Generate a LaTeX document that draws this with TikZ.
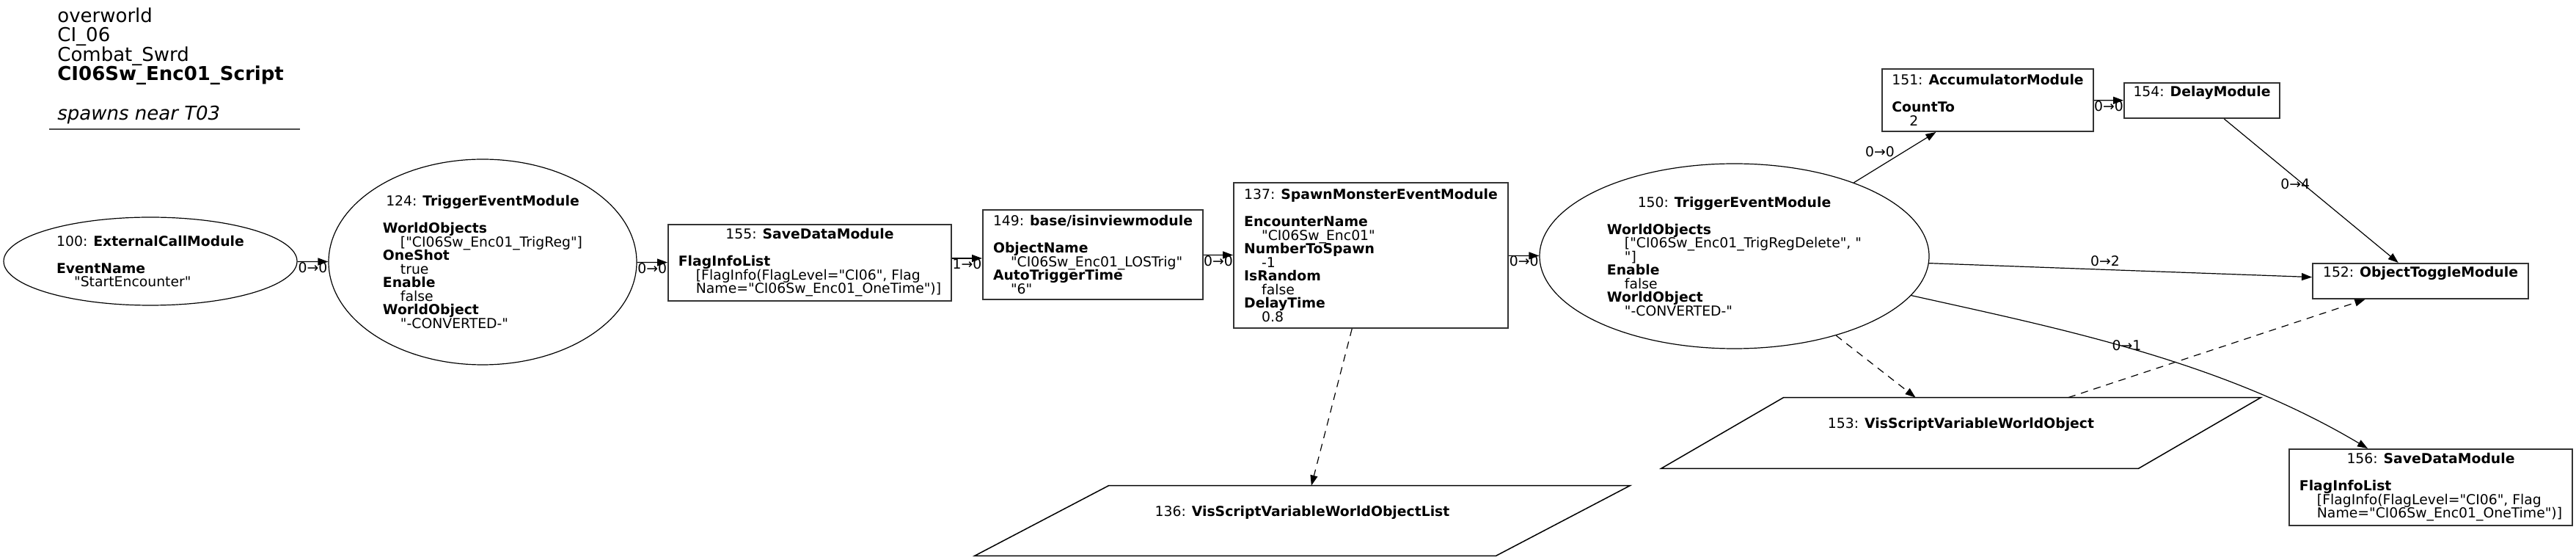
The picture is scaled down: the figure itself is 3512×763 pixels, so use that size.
\documentclass[tikz,border=0pt]{standalone}
\usepackage{fontspec}
\setmainfont{DejaVu Sans}[Ligatures=TeXOff,BoldFont={DejaVu Sans Bold},ItalicFont={DejaVu Sans Oblique}]
\usepackage{tikz}
\usetikzlibrary{arrows.meta,shapes.geometric,positioning}

\newcommand{\modfont}{\fontsize{9.4}{9.25}\selectfont\lineskiplimit=-5pt\relax}
\newcommand{\headfont}{\fontsize{13}{13.3}\selectfont}
\newcommand{\vind}{\hspace*{12pt}}
\newcommand{\modtitle}[2]{#1: \textbf{#2}\\[9.25pt]}
\newcommand{\midtitle}[3]{\setbox0\hbox{#3}\makebox[\wd0][c]{#1: \textbf{#2}}\\[9.25pt]}

\begin{document}
\begin{tikzpicture}[x=0.5pt, y=-0.5pt,
	box/.style={draw=black!80, line width=1pt, rectangle, align=left, font=\modfont, inner sep=0pt},
	trig/.style={draw, ellipse, line width=0.6pt, align=left, font=\modfont, inner sep=0pt},
	var/.style={rectangle, font=\modfont, inner sep=0pt, text height=7pt, text depth=13pt},
	wire/.style={-{Triangle[length=7pt,width=5pt]}, line width=0.6pt},
	varwire/.style={wire, dash pattern=on 5pt off 4pt},
	num/.style={font=\modfont, inner sep=0pt}]

	\useasboundingbox (0,0) rectangle (3512,763);

	\node[font=\headfont, align=left, inner sep=0pt, anchor=north west] (head) at (78,10)
		{overworld\\ CI\_06\\ Combat\_Swrd\\ \textbf{CI06Sw\_Enc01\_Script}\\[13.3pt] \textit{spawns near T03}};
	\draw[black!70, line width=0.6pt] (67,176) -- (409,176);

	\path (205,356) node[trig, minimum width=200pt, minimum height=60pt] (m100)
			{\modtitle{100}{ExternalCallModule}\textbf{EventName}\\ \vind"StartEncounter"}
		(658,357) node[trig, minimum width=210pt, minimum height=140pt] (m124)
			{\midtitle{124}{TriggerEventModule}{\vind["CI06Sw\_Enc01\_TrigReg"]}\textbf{WorldObjects}\\ \vind["CI06Sw\_Enc01\_TrigReg"]\\
			\textbf{OneShot}\\ \vind true\\ \textbf{Enable}\\ \vind false\\ \textbf{WorldObject}\\ \vind"-CONVERTED-"}
		(1104,358) node[box, minimum width=193pt, minimum height=52pt] (m155)
			{\midtitle{155}{SaveDataModule}{\vind Name="CI06Sw\_Enc01\_OneTime")]}\textbf{FlagInfoList}\\ \vind[FlagInfo(FlagLevel="CI06", Flag\\
			\vind Name="CI06Sw\_Enc01\_OneTime")]}
		(1490,347) node[box, minimum width=150pt, minimum height=61pt] (m149)
			{\modtitle{149}{base/isinviewmodule}\textbf{ObjectName}\\ \vind"CI06Sw\_Enc01\_LOSTrig"\\
			\textbf{AutoTriggerTime}\\ \vind"6"}
		(1869,348) node[box, minimum width=187pt, minimum height=99pt] (m137)
			{\modtitle{137}{SpawnMonsterEventModule}\textbf{EncounterName}\\ \vind"CI06Sw\_Enc01"\\
			\textbf{NumberToSpawn}\\ \vind -1\\ \textbf{IsRandom}\\ \vind false\\ \textbf{DelayTime}\\ \vind 0.8}
		(2364.5,349) node[trig, minimum width=265.5pt, minimum height=126pt] (m150)
			{\midtitle{150}{TriggerEventModule}{\vind["CI06Sw\_Enc01\_TrigRegDelete", "}\textbf{WorldObjects}\\ \vind["CI06Sw\_Enc01\_TrigRegDelete", "\\
			\vind"]\\ \textbf{Enable}\\ \vind false\\ \textbf{WorldObject}\\ \vind"-CONVERTED-"}
		(2710,136.5) node[box, minimum width=144pt, minimum height=42.5pt] (m151)
			{\modtitle{151}{AccumulatorModule}\textbf{CountTo}\\ \vind 2}
		(3002,137) node[box, minimum width=106pt, minimum height=24pt, text height=7pt, text depth=12pt] (m154)
			{154: \textbf{DelayModule}}
		(3300,383) node[box, minimum width=147pt, minimum height=24pt, text height=7pt, text depth=12pt] (m152)
			{152: \textbf{ObjectToggleModule}}
		(3314,664) node[box, minimum width=193pt, minimum height=52pt] (m156)
			{\midtitle{156}{SaveDataModule}{\vind Name="CI06Sw\_Enc01\_OneTime")]}\textbf{FlagInfoList}\\ \vind[FlagInfo(FlagLevel="CI06", Flag\\
			\vind Name="CI06Sw\_Enc01\_OneTime")]}
		(2673.5,590) node[var, minimum width=408.5pt, minimum height=48pt] (m153)
			{153: \textbf{VisScriptVariableWorldObject}}
		(1775.5,709.5) node[var, minimum width=446.5pt, minimum height=47.5pt] (m136)
			{136: \textbf{VisScriptVariableWorldObjectList}};

	\draw[line width=0.75pt] (m153.south west) -- ([xshift=83.5pt]m153.north west) -- (m153.north east)
		-- ([xshift=-83.5pt]m153.south east) -- cycle;
	\draw[line width=0.75pt] (m136.south west) -- ([xshift=91.5pt]m136.north west) -- (m136.north east)
		-- ([xshift=-91.5pt]m136.south east) -- cycle;

	\draw[wire] (m100) -- node[num, below] {0→0} (m124);
	\draw[wire] (m124) -- node[num, below] {0→0} (m155);
	\draw[wire] (m155.east |- 0,352) -- node[num, below] {1→0} (m149.west |- 0,352);
	\draw[wire] (m149) -- node[num, below] {0→0} (m137);
	\draw[wire] (m137) -- node[num, below] {0→0} (m150);
	\draw[wire] (m150) -- node[num, above left] {0→0} (m151);
	\draw[wire] (m151) -- node[num, below] {0→0} (m154);
	\draw[wire] (m154) -- node[num, pos=0.45, xshift=-5pt] {0→4} (m152);
	\draw[wire] (m150) -- node[num, pos=0.46, above=2pt] {0→2} (m152);
	\draw[wire] (m150) .. controls (2810,448) and (3028,492) .. node[num, pos=0.47, yshift=1.5pt] {0→1} (m156.north -| 3228,0);

	\draw[varwire] (m137) -- (m136);
	\draw[varwire] (m150) -- (m153);
	\draw[varwire] (m153) -- (m152);

\end{tikzpicture}
\end{document}
